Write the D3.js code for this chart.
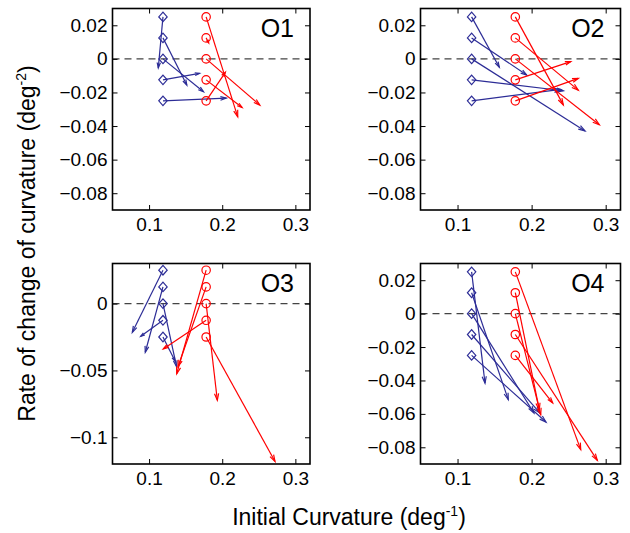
<!DOCTYPE html>
<html>
<head>
<meta charset="utf-8">
<script src="https://cdn.jsdelivr.net/npm/d3@7"></script>
<style>
  html, body { margin: 0; padding: 0; background: #fff; }
  svg { display: block; font-family: "Liberation Sans", Arial, Helvetica, sans-serif; }
</style>
</head>
<body>
<svg id="chart" width="630" height="533"></svg>
<script>
// ---------------- data ----------------
const panelNames = ["O1", "O2", "O3", "O4"];
const startY = [0.025, 0.0125, 0, -0.0125, -0.025];
const blueStartX = 0.119;
const redStartX = 0.178;

const o1BlueEndX = [0.1126, 0.1516, 0.1744, 0.169, 0.2056];
const o1BlueEndY = [-0.0054, -0.0156, -0.0196, -0.0086, -0.0234];
const o1RedEndX  = [0.2212, 0.1815, 0.2514, 0.2272, 0.2043];
const o1RedEndY  = [-0.0345, 0.0095, -0.0275, -0.029, -0.008];

const o2BlueEndX = [0.1564, 0.1934, 0.2721, 0.2428, 0.2395];
const o2BlueEndY = [-0.005, -0.0096, -0.0429, -0.019, -0.0182];
const o2RedEndX  = [0.2428, 0.263, 0.2914, 0.2528, 0.263];
const o2RedEndY  = [-0.0274, -0.0186, -0.0392, -0.0016, -0.0116];

const o3BlueEndX = [0.0771, 0.0948, 0.1375, 0.0886, 0.1355];
const o3BlueEndY = [-0.0215, -0.0364, -0.047, -0.0245, -0.043];
const o3RedEndX  = [0.1378, 0.1395, 0.1933, 0.1194, 0.2722];
const o3RedEndY  = [-0.0525, -0.0472, -0.0723, -0.0339, -0.1181];

const o4BlueEndX = [0.1371, 0.1685, 0.2032, 0.2113, 0.2194];
const o4BlueEndY = [-0.0416, -0.0515, -0.0595, -0.0595, -0.0649];
const o4RedEndX  = [0.2663, 0.2104, 0.2123, 0.2887, 0.2285];
const o4RedEndY  = [-0.0814, -0.0575, -0.0605, -0.0878, -0.0535];

const xDomain = [0.05, 0.32];
const xTicks = [0.1, 0.2, 0.3];
const xTickLabels = ["0.1", "0.2", "0.3"];
const yDomainA = [-0.09, 0.03];
const yTicksA = [0.02, 0, -0.02, -0.04, -0.06, -0.08];
const yTickLabelsA = ["0.02", "0", "\u22120.02", "\u22120.04", "\u22120.06", "\u22120.08"];
const yDomainB = [-0.12, 0.03];
const yTicksB = [0, -0.05, -0.1];
const yTickLabelsB = ["0", "\u22120.05", "\u22120.1"];

const yTitle = "Rate of change of curvature (deg";
const yTitleSup = "-2";
const xTitle = "Initial Curvature (deg";
const xTitleSup = "-1";

// ---------------- layout ----------------
const BLUE = "#2c2c96";
const RED = "#ff0000";
const panels = [
  { name: panelNames[0], x0: 112.5, x1: 310, y0: 8.5, y1: 210, yDom: yDomainA, yT: yTicksA, yL: yTickLabelsA,
    bx: o1BlueEndX, by: o1BlueEndY, rx: o1RedEndX, ry: o1RedEndY },
  { name: panelNames[1], x0: 420.5, x1: 620.5, y0: 8.5, y1: 210, yDom: yDomainA, yT: yTicksA, yL: yTickLabelsA,
    bx: o2BlueEndX, by: o2BlueEndY, rx: o2RedEndX, ry: o2RedEndY },
  { name: panelNames[2], x0: 112.5, x1: 310, y0: 263.5, y1: 464, yDom: yDomainB, yT: yTicksB, yL: yTickLabelsB,
    bx: o3BlueEndX, by: o3BlueEndY, rx: o3RedEndX, ry: o3RedEndY },
  { name: panelNames[3], x0: 420.5, x1: 620.5, y0: 263.5, y1: 464, yDom: yDomainA, yT: yTicksA, yL: yTickLabelsA,
    bx: o4BlueEndX, by: o4BlueEndY, rx: o4RedEndX, ry: o4RedEndY }
];

const svg = d3.select("#chart");

function arrow(g, x1, y1, x2, y2, color) {
  const dx = x2 - x1, dy = y2 - y1;
  const len = Math.hypot(dx, dy);
  g.append("line").attr("x1", x1).attr("y1", y1).attr("x2", x2).attr("y2", y2)
    .attr("stroke", color).attr("stroke-width", 1.2);
  if (len < 0.5) return;
  const h = Math.max(3, Math.min(7, 0.05 * len + 3));
  const ang = Math.atan2(dy, dx);
  const a = 0.3;
  const p1 = [x2 - h * Math.cos(ang - a), y2 - h * Math.sin(ang - a)];
  const p2 = [x2 - h * Math.cos(ang + a), y2 - h * Math.sin(ang + a)];
  g.append("path").attr("d", `M${p1[0]},${p1[1]}L${x2},${y2}L${p2[0]},${p2[1]}`)
    .attr("fill", "none").attr("stroke", color).attr("stroke-width", 1.2).attr("stroke-linejoin", "miter");
}

panels.forEach(p => {
  const x = d3.scaleLinear().domain(xDomain).range([p.x0, p.x1]);
  const y = d3.scaleLinear().domain(p.yDom).range([p.y1, p.y0]);
  const g = svg.append("g");

  // zero dashed line
  g.append("line").attr("x1", p.x0).attr("x2", p.x1).attr("y1", y(0)).attr("y2", y(0))
    .attr("stroke", "#444").attr("stroke-width", 1.1).attr("stroke-dasharray", "7,5");

  // arrows
  const arrows = g.append("g");
  startY.forEach((sy, i) => {
    arrow(arrows, x(blueStartX), y(sy), x(p.bx[i]), y(p.by[i]), BLUE);
  });
  startY.forEach((sy, i) => {
    arrow(arrows, x(redStartX), y(sy), x(p.rx[i]), y(p.ry[i]), RED);
  });

  // markers
  g.selectAll(".dia").data(startY).enter().append("path")
    .attr("d", d => { const cx = x(blueStartX), cy = y(d);
      return `M${cx},${cy - 4.8}L${cx + 4.2},${cy}L${cx},${cy + 4.8}L${cx - 4.2},${cy}Z`; })
    .attr("fill", "none").attr("stroke", BLUE).attr("stroke-width", 1.2);
  g.selectAll(".circ").data(startY).enter().append("circle")
    .attr("cx", x(redStartX)).attr("cy", d => y(d)).attr("r", 4.2)
    .attr("fill", "none").attr("stroke", RED).attr("stroke-width", 1.2);

  // axes
  const fmtX = (d, i) => xTickLabels[i];
  const fmtY = (d, i) => p.yL[i];
  const axB = g.append("g").attr("transform", `translate(0,${p.y1})`)
    .call(d3.axisBottom(x).tickValues(xTicks).tickFormat(fmtX).tickSize(-5).tickPadding(8));
  const axT = g.append("g").attr("transform", `translate(0,${p.y0})`)
    .call(d3.axisTop(x).tickValues(xTicks).tickFormat("").tickSize(-5));
  const axL = g.append("g").attr("transform", `translate(${p.x0},0)`)
    .call(d3.axisLeft(y).tickValues(p.yT).tickFormat(fmtY).tickSize(-5).tickPadding(5));
  const axR = g.append("g").attr("transform", `translate(${p.x1},0)`)
    .call(d3.axisRight(y).tickValues(p.yT).tickFormat("").tickSize(-5));
  [axB, axT, axL, axR].forEach(a => {
    a.select(".domain").remove();
    a.selectAll(".tick line").attr("stroke", "#000").attr("stroke-width", 1);
    a.selectAll("text").attr("fill", "#000").attr("font-size", 19)
      .attr("font-family", "'Liberation Sans', Arial, Helvetica, sans-serif");
  });

  // box
  g.append("rect").attr("x", p.x0).attr("y", p.y0).attr("width", p.x1 - p.x0).attr("height", p.y1 - p.y0)
    .attr("fill", "none").attr("stroke", "#000").attr("stroke-width", 1.6);

  // panel label
  g.append("text").attr("x", p.x1 - 16).attr("y", p.y0 + 28.5).attr("text-anchor", "end")
    .attr("font-size", 25).attr("fill", "#000").text(p.name);
});

// axis titles
const yt = svg.append("text").attr("transform", "translate(35,243.5) rotate(-90)")
  .attr("text-anchor", "middle").attr("font-size", 23).attr("fill", "#000");
yt.append("tspan").text(yTitle);
yt.append("tspan").attr("font-size", 14).attr("dy", -9).text(yTitleSup);
yt.append("tspan").attr("dy", 9).text(")");

const xt = svg.append("text").attr("x", 349).attr("y", 524.7)
  .attr("text-anchor", "middle").attr("font-size", 23).attr("fill", "#000");
xt.append("tspan").text(xTitle);
xt.append("tspan").attr("font-size", 14).attr("dy", -9).text(xTitleSup);
xt.append("tspan").attr("dy", 9).text(")");
</script>
</body>
</html>
